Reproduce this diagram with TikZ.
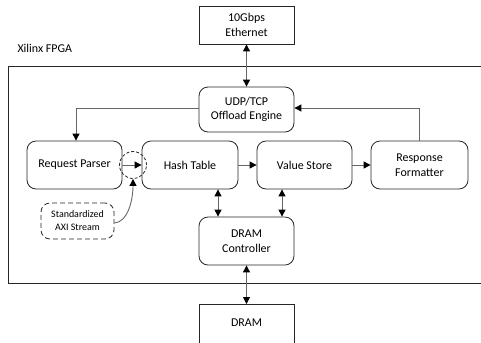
\documentclass[tikz,border=0pt]{standalone}
\usepackage{fontspec}
\setmainfont{Carlito}
\usetikzlibrary{arrows.meta,positioning}
\begin{document}
\begin{tikzpicture}[x=1bp,y=-1bp,
  box/.style={draw=black!85,line width=0.8bp,fill=white,align=center,font=\fontsize{12}{14.5}\selectfont},
  rbox/.style={box,rounded corners=9bp},
  conn/.style={draw=black!60,line width=0.9bp},
  tip/.style={-{Triangle[length=7bp,width=7bp,color=black]}},
  dtip/.style={{Triangle[length=7bp,width=7bp,color=black]}-{Triangle[length=7bp,width=7bp,color=black]}}]
\useasboundingbox (0,0) rectangle (481,342);
\begin{scope}
\clip (0,0) rectangle (481,342);
% FPGA frame
\node[draw=black!85,line width=0.8bp,minimum width=490bp,minimum height=217bp,anchor=north west,inner sep=0] (fpga) at (8,66) {};
\node[anchor=west,font=\fontsize{12}{14.5}\selectfont] (lbl) at (14,48) {Xilinx FPGA};
% nodes
\node[box,minimum width=95bp,minimum height=38bp] (eth) at (246.5,25) {10Gbps\\Ethernet};
\node[rbox,minimum width=95bp,minimum height=45bp] (udp) at (246.5,109.5) {UDP/TCP\\Offload Engine};
\node[rbox,minimum width=95bp,minimum height=48bp] (rp) at (74.5,165) {Request Parser};
\node[rbox,minimum width=96bp,minimum height=48bp] (ht) at (190,165) {Hash Table};
\node[rbox,minimum width=95bp,minimum height=48bp] (vs) at (304.5,165) {Value Store};
\node[rbox,minimum width=97bp,minimum height=48bp] (rf) at (419.5,165) {Response\\Formatter};
\node[rbox,minimum width=95bp,minimum height=48bp] (dc) at (246.5,241) {DRAM\\Controller};
\node[box,minimum width=95bp,minimum height=48bp,anchor=north] (dram) at (246.5,304) {};
\node[font=\fontsize{12}{14.5}\selectfont] (dramt) at (246.5,323) {DRAM};
\node[draw=black!85,line width=0.8bp,dashed,dash pattern=on 5bp off 3bp,rounded corners=9bp,minimum width=73bp,minimum height=36bp,align=center,font=\fontsize{10}{13}\selectfont] (axi) at (77.5,221) {Standardized\\AXI Stream};
\node[draw=black!85,line width=0.8bp,dashed,dash pattern=on 3bp off 2bp,circle,minimum size=27bp,inner sep=0] (circ) at (133,165) {};
% connectors
\draw[conn,dtip] (eth.south) -- (udp.north);
\draw[conn,tip] (udp.west |- 0,108) -| (rp.north -| 76,0);
\draw[conn,tip] (rf.north -| 419,0) |- (udp.east |- 0,108);
\draw[conn,tip] (rp.east) -- (ht.west);
\draw[conn,tip] (ht.east) -- (vs.west);
\draw[conn,tip] (vs.east) -- (rf.west);
\draw[conn,dtip] (ht.south -| 218,0) -- (dc.north -| 218,0);
\draw[conn,dtip] (vs.south -| 282,0) -- (dc.north -| 282,0);
\draw[conn,dtip] (dc.south) -- (dram.north);
\draw[conn,tip] (axi.east |- 0,223) .. controls (128,222) and (133,200) .. (circ.south);
\end{scope}
\end{tikzpicture}
\end{document}
